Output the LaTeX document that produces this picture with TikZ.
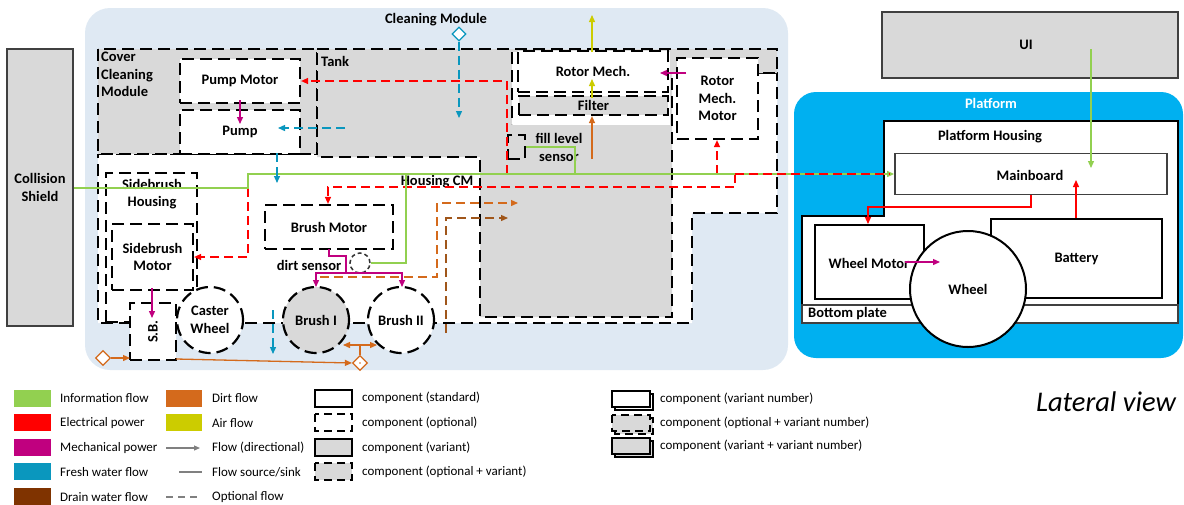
\documentclass[tikz,border=0pt]{standalone}
\usepackage{fontspec}
\setmainfont{Carlito}
\usetikzlibrary{arrows.meta,shapes.geometric,calc}
\definecolor{cmbg}{HTML}{DFE9F3}
\definecolor{platc}{HTML}{00B0F0}
\definecolor{grayfill}{HTML}{D9D9D9}
\definecolor{infoc}{HTML}{92D050}
\definecolor{elecc}{HTML}{FF0000}
\definecolor{mechc}{HTML}{C0007F}
\definecolor{freshc}{HTML}{0A97BE}
\definecolor{drainc}{HTML}{7F3300}
\definecolor{drainl}{HTML}{A0561A}
\definecolor{dirtc}{HTML}{D46A1C}
\definecolor{airc}{HTML}{CCCC00}
\definecolor{edgec}{HTML}{404040}
\definecolor{legg}{HTML}{808080}
\begin{document}
\begin{tikzpicture}[x=1pt,y=-1pt,
  lbl/.style={font=\bfseries\fontsize{14.5}{17.5}\selectfont, align=center, inner sep=0},
  leg/.style={font=\fontsize{13}{15}\selectfont, anchor=west, inner sep=0},
  odash/.style={line width=2.2pt, dash pattern=on 12pt off 6pt},
  optbox/.style={draw, odash, fill=white, inner sep=0, lbl},
  optcirc/.style={circle, draw, odash, fill=white, inner sep=0, lbl},
  stdbox/.style={draw, line width=2pt, fill=white, inner sep=0, lbl},
  grbox/.style={draw=edgec, line width=1.8pt, fill=grayfill, inner sep=0, lbl},
  fdash/.style={dash pattern=on 9pt off 5pt},
  tip/.style={-{Triangle[length=7pt,width=6pt]}},
  flow/.style={line width=1.3pt},
  info/.style={flow, draw=infoc},
  elec/.style={flow, draw=elecc},
  mech/.style={flow, draw=mechc},
  fresh/.style={flow, draw=freshc, fdash},
  dirt/.style={flow, draw=dirtc},
  drain/.style={flow, draw=drainl, fdash},
  air/.style={flow, draw=airc},
  legbox/.style={line width=1.5pt},
]
\useasboundingbox (0,0) rectangle (1184,504);

% ---------- backgrounds ----------
\fill[cmbg, rounded corners=25pt] (85,8) rectangle (788,370);
\node[lbl] (cmtitle) at (436,19.5) {Cleaning Module};
\fill[platc, rounded corners=22pt] (794,92) rectangle (1183,358);
\node[lbl, text=white] (plattitle) at (991,103) {Platform};

\node[grbox, minimum width=66, minimum height=277] (shield) at (40,187.5) {Collision\\Shield};
\node[grbox, minimum width=296, minimum height=66] (ui) at (1030,45) {};
\node[lbl] (uilbl) at (1026,45) {UI};

% ---------- cleaning module structure ----------
\draw[odash, fill=white] (98,154) -- (400,154) -- (400,73) -- (777,73) -- (777,213) -- (692,213) -- (692,323) -- (98,323) -- cycle;
\draw[odash, fill=grayfill] (98,49) rectangle (317,154);
\node[lbl, align=left, anchor=north west] (cover) at (101,52) {Cover\\Cleaning\\Module};
\draw[odash, fill=grayfill] (317,49) -- (777,49) -- (777,73) -- (672,73) -- (672,317) -- (480,317) -- (480,157) -- (317,157) -- cycle;
\node[lbl, anchor=west] (tank) at (321,61) {Tank};
\node[lbl] (housingcm) at (437,182) {Housing CM};
\fill[white] (512,52) rectangle (670,125);
\draw[odash] (512,52) -- (512,124);

\node[optbox, minimum width=120, minimum height=44] (pumpmotor) at (240,81) {Pump Motor};
\node[optbox, minimum width=120, minimum height=44] (pump) at (240,132) {Pump};
\node[optbox, minimum width=150, minimum height=41] (rotor) at (593,71.5) {Rotor Mech.};
\node[optbox, fill=grayfill, minimum width=149, minimum height=19] (filter) at (593.5,105.5) {Filter};
\node[optbox, minimum width=81, minimum height=81] (rotormotor) at (717.5,98.5) {Rotor\\Mech.\\Motor};
\node[draw, odash, minimum width=17, minimum height=24, inner sep=0] (fillbox) at (516.5,147) {};
\node[lbl] (filllbl) at (559,147.5) {fill level\\sensor};

\node[optbox, minimum width=91, minimum height=149] (sbhousing) at (151.5,247.5) {};
\node[lbl] (sbhlbl) at (152,194) {Sidebrush\\Housing};
\node[optbox, minimum width=81, minimum height=66] (sbmotor) at (152.5,257) {Sidebrush\\Motor};
\node[optbox, minimum width=128, minimum height=44] (brushmotor) at (329,227) {Brush Motor};
\node[circle, draw=black!80, line width=1.5pt, dash pattern=on 4pt off 3pt, minimum size=20, inner sep=0] (dirtsens) at (360,263) {};
\node[lbl] (dirtlbl) at (309,265) {dirt sensor};
\node[optbox, minimum width=46, minimum height=57] (sb) at (153,331.5) {\rotatebox{90}{S.B.}};
\node[optcirc, minimum size=66] (caster) at (210,320) {Caster\\Wheel};
\node[optcirc, fill=grayfill, minimum size=66] (brush1) at (316,320) {Brush I};
\node[optcirc, minimum size=66] (brush2) at (401,320) {Brush II};

% ---------- platform ----------
\draw[line width=2pt, fill=white] (884,121) -- (1178,121) -- (1178,305) -- (802,305) -- (802,216) -- (884,216) -- cycle;
\node[lbl] (phlbl) at (990,137) {Platform Housing};
\draw[draw=edgec, line width=1.5pt, fill=white] (802,305) rectangle (1178,323);
\node[lbl, anchor=west] (bplbl) at (808,314) {Bottom plate};
\node[draw=edgec, line width=1.8pt, fill=white, minimum width=272, minimum height=41, inner sep=0] (mainboard) at (1031,174) {};
\node[lbl] (mblbl) at (1030,175) {Mainboard};
\node[stdbox, minimum width=109, minimum height=74] (wheelmotor) at (869.5,262) {};
\node[stdbox, minimum width=171, minimum height=79] (battery) at (1076.5,258.5) {Battery};
\node[stdbox, circle, minimum size=116] (wheel) at (968,289) {Wheel};
\node[lbl] (wmlbl) at (869,263) {Wheel Motor};

% ---------- flows: electrical ----------
\draw[elec, fdash] (248,174) -- (735,174);
\draw[elec, fdash, tip] (735,174) -- (735,187) -- (328,187) -- (brushmotor.north -| 328,0);
\draw[elec, fdash, tip] (248,174) -- (248,257) -- (sbmotor.east |- 0,257);
\draw[elec, fdash, tip] (507,174) -- (507,81) -- (pumpmotor.east);
\draw[elec, fdash, tip] (717,174) -- (rotormotor.south -| 717,0);

% ---------- flows: information ----------
\draw[info] (shield.east |- 0,188) -- (248,188) -- (248,174) -- (735,174);
\draw[info, tip] (735,174) -- (mainboard.west);
\draw[elec, fdash] (735,174) -- (890,174);
\draw[info] (dirtsens.east) -- (406,263) -- (406,174);
\draw[info] (fillbox.east |- 0,147) -- (575,147) -- (575,174);
\draw[info, tip] (1091,49) -- (1091,168);

% ---------- flows: mechanical ----------
\draw[mech, tip] (240,100) -- (240,124);
\draw[mech, tip] (152,288) -- (152,318);
\draw[mech] (329,249) -- (329,256) -- (346,256) -- (346,273);
\draw[mech, {Triangle[length=7pt,width=6pt]}-{Triangle[length=7pt,width=6pt]}] (316,287) -- (316,273) -- (402,273) -- (402,287);
\draw[mech, tip] (686,73) -- (660,73);
\draw[mech, tip] (905,262) -- (940,262);

% ---------- flows: fresh water ----------
\node[diamond, draw=freshc, line width=1.2pt, fill=white, minimum size=14, inner sep=0] (freshsrc) at (459,34) {};
\draw[fresh, tip] (freshsrc.south) -- (459,118);
\draw[fresh, tip] (345,128) -- (278,128);
\draw[fresh, tip] (277,153) -- (277,183);
\draw[fresh, tip] (273,310) -- (273,354);

% ---------- flows: dirt / drain / air ----------
\draw[dirt, fdash, tip] (320,277) -- (437,277) -- (437,203) -- (518,203);
\draw[drain, tip] (446,333) -- (446,218) -- (508,218);
\draw[dirt, tip] (592,159) -- (filter.south -| 592,0);
\draw[air, tip] (592,98) -- (592,79);
\draw[air, tip] (592,52) -- (592,15);
\node[diamond, draw=dirtc, line width=1.2pt, fill=white, minimum size=15, inner sep=0] (dirtsrc) at (103,358) {};
\draw[dirt, tip] (dirtsrc.east) -- (130,358);
\node[diamond, draw=dirtc, line width=1.2pt, fill=white, minimum size=15, inner sep=0] (dirtsink) at (360,363) {};
\fill[dirtc] (dirtsink.center) circle (0.8pt);
\draw[dirt, tip] (176,359) -- (dirtsink.west);
\draw[dirt] (dirtsink.north) -- (360,345);
\draw[dirt, {Triangle[length=7pt,width=6pt]}-{Triangle[length=7pt,width=6pt]}] (343,345) -- (377,345);

% ---------- platform flows ----------
\draw[elec, tip] (1031,195) -- (1031,207) -- (868,207) -- (wheelmotor.north -| 868,0);
\draw[elec, tip] (battery.north -| 1076,0) -- (1076,180);

% ---------- legend ----------
\fill[infoc] (14,390) rectangle (51,407);  \node[leg] (l1) at (60,398) {Information flow};
\fill[elecc] (14,414) rectangle (51,431);  \node[leg] (l2) at (60,423) {Electrical power};
\fill[mechc] (14,439) rectangle (51,456);  \node[leg] (l3) at (60,448) {Mechanical power};
\fill[freshc] (14,463) rectangle (51,480); \node[leg] (l4) at (60,472) {Fresh water flow};
\fill[drainc] (14,488) rectangle (51,505); \node[leg] (l5) at (60,497) {Drain water flow};

\fill[dirtc] (166,390) rectangle (202,407); \node[leg] (l6) at (212,398) {Dirt flow};
\fill[airc] (166,414) rectangle (202,431);  \node[leg] (l7) at (212,423) {Air flow};
\draw[legg, line width=1.2pt, -{Triangle[length=6pt,width=5pt]}] (166,448) -- (200,448); \node[leg] (l8) at (212,448) {Flow (directional)};
\draw[legg, line width=1.2pt] (179,472) -- (202,472); \node[leg] (l9) at (212,472) {Flow source/sink};
\draw[legg, line width=1.2pt, dash pattern=on 7pt off 5pt] (166,497) -- (202,497); \node[leg] (l10) at (212,497) {Optional flow};

\draw[legbox, fill=white] (315,390) rectangle (352,407); \node[leg] (l11) at (362,398) {component (standard)};
\draw[legbox, fill=white, dash pattern=on 8pt off 5pt] (315,414) rectangle (352,431); \node[leg] (l12) at (362,423) {component (optional)};
\draw[legbox, fill=grayfill] (315,439) rectangle (352,456); \node[leg] (l13) at (362,448) {component (variant)};
\draw[legbox, fill=grayfill, dash pattern=on 8pt off 5pt] (315,463) rectangle (352,480); \node[leg] (l14) at (362,472) {component (optional + variant)};

\draw[legbox, fill=white] (615,394) rectangle (653,410);
\draw[legbox, fill=white] (612,391) rectangle (650,407); \node[leg] (l15) at (660,399) {component (variant number)};
\draw[legbox, fill=grayfill, dash pattern=on 8pt off 5pt] (615,418) rectangle (653,434);
\draw[legbox, fill=grayfill, dash pattern=on 8pt off 5pt] (612,415) rectangle (650,431); \node[leg] (l16) at (660,423) {component (optional + variant number)};
\draw[legbox, fill=grayfill] (615,441) rectangle (653,457);
\draw[legbox, fill=grayfill] (612,438) rectangle (650,454); \node[leg] (l17) at (660,446) {component (variant + variant number)};

\node[font=\itshape\fontsize{28.5}{31}\selectfont, inner sep=0] (lateral) at (1106,402) {Lateral view};
\end{tikzpicture}
\end{document}
